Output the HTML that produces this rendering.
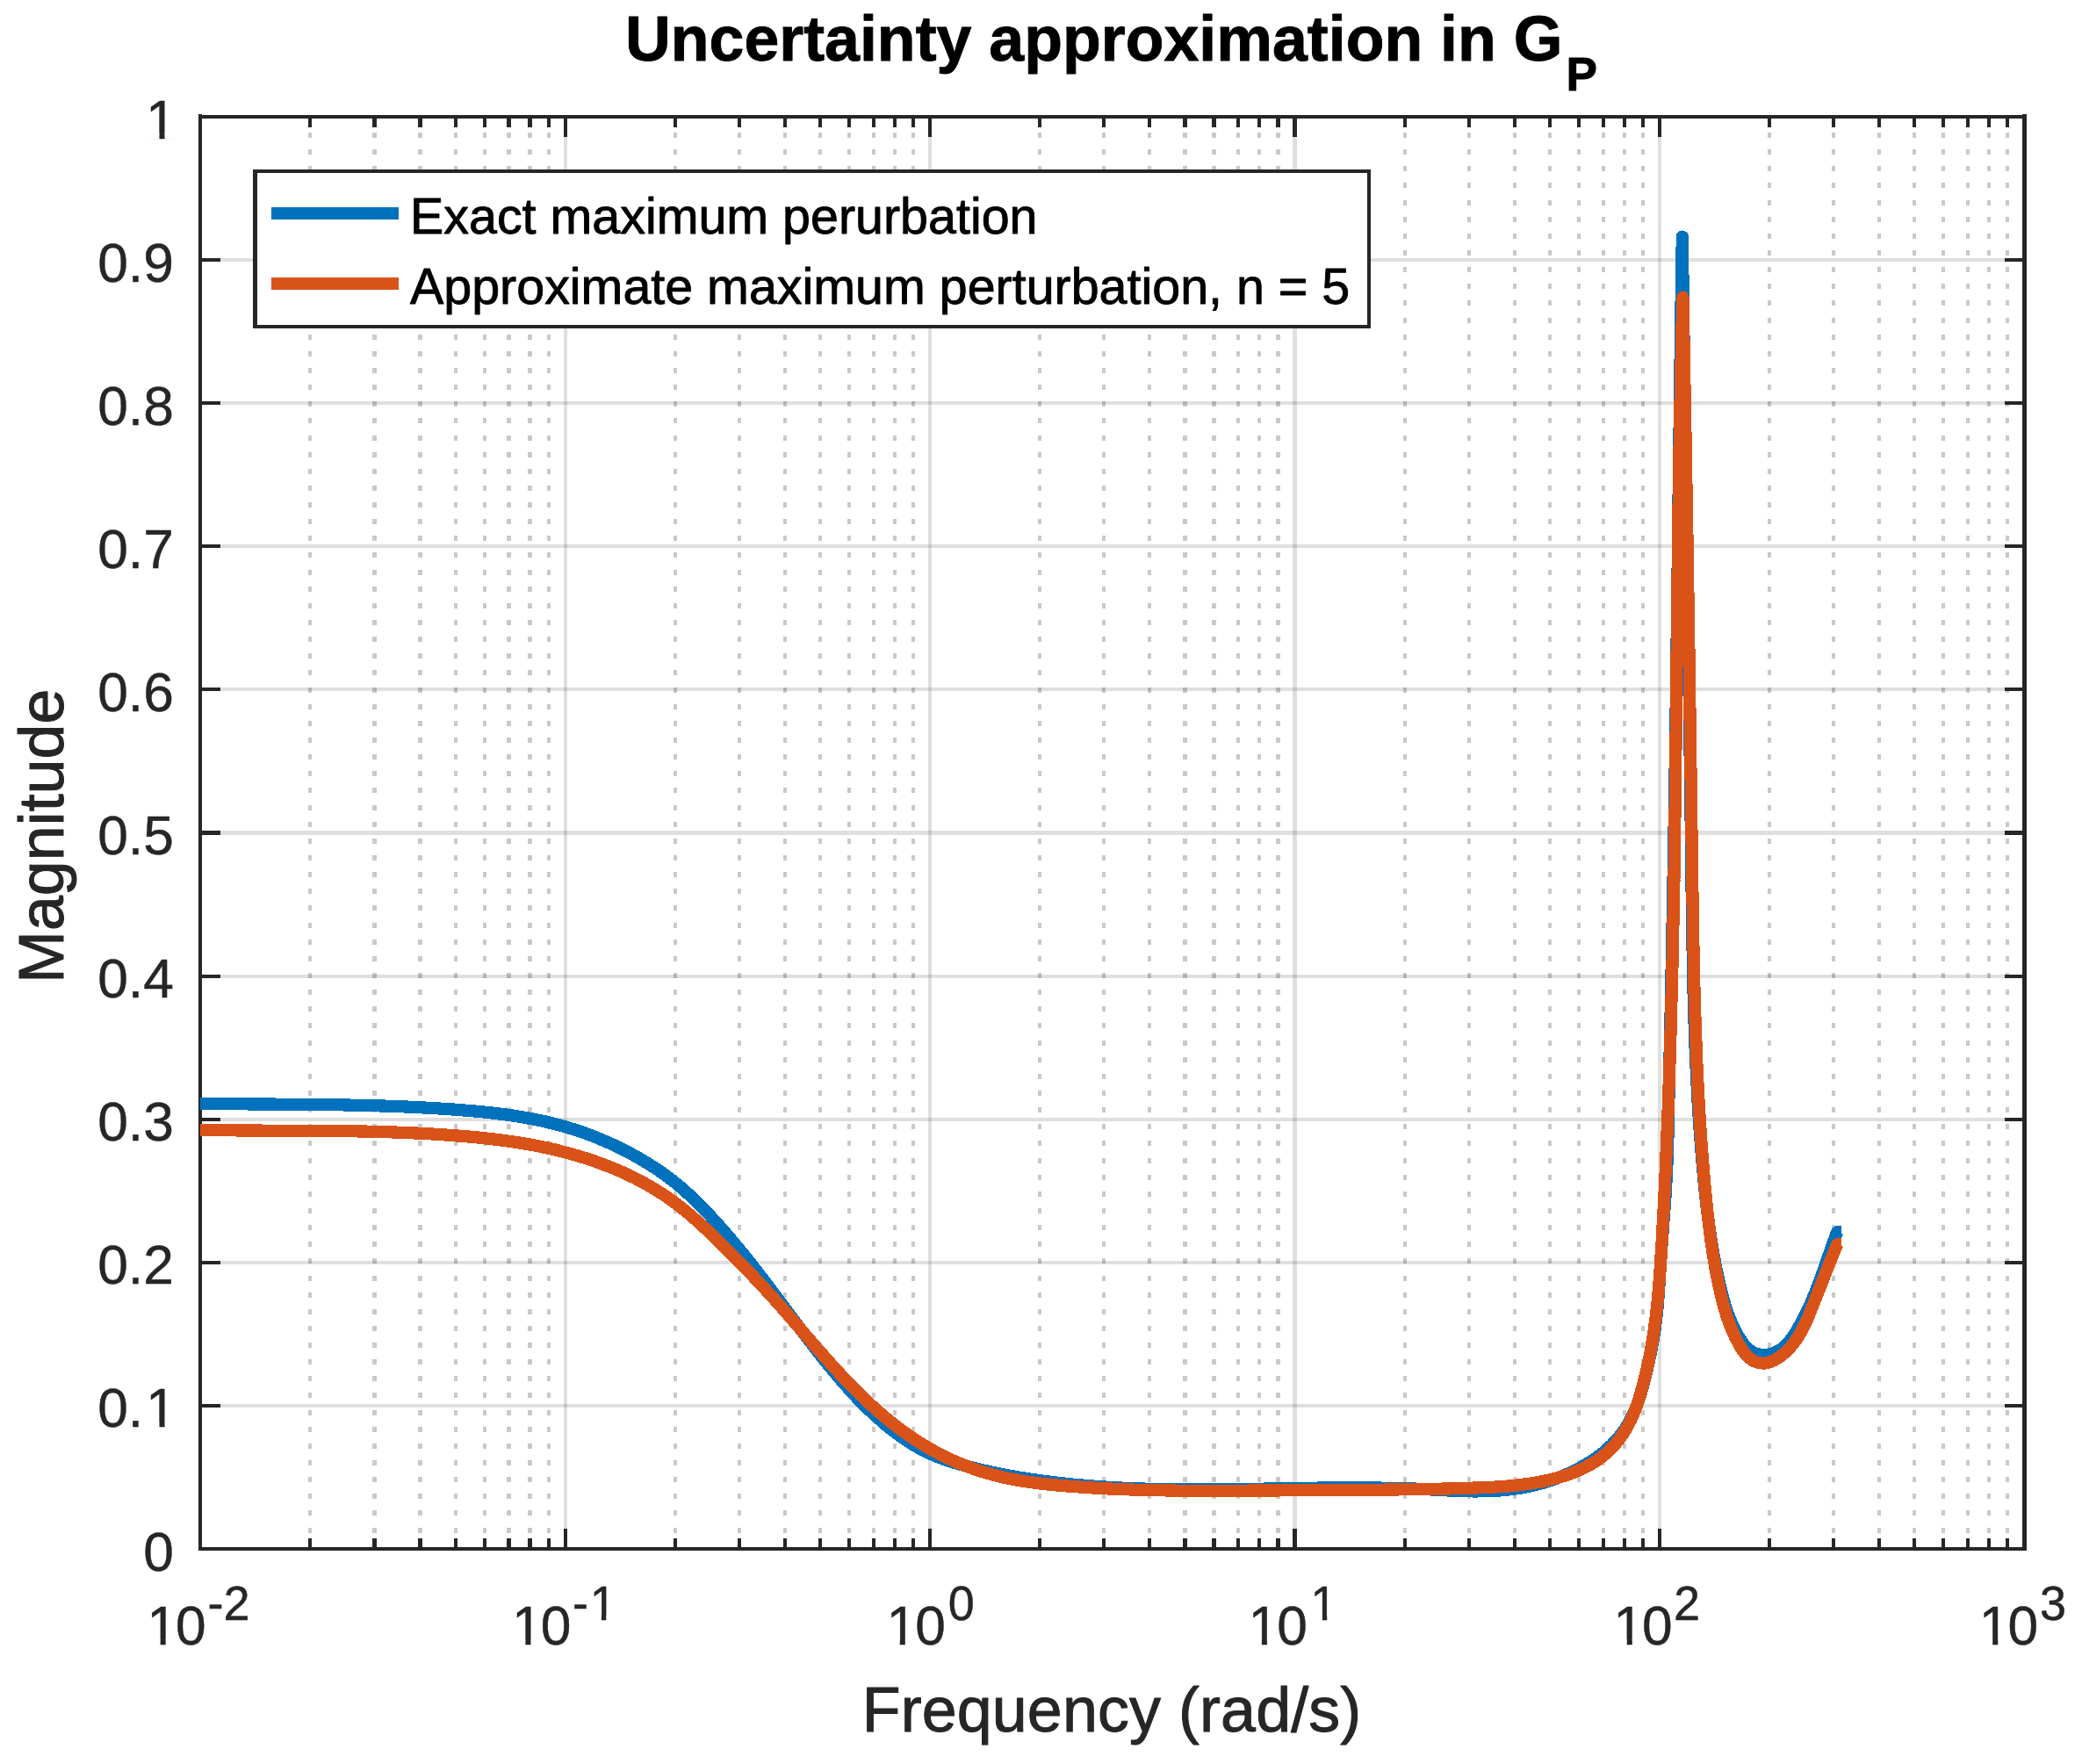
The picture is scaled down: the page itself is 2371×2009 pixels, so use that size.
<!DOCTYPE html>
<html lang="en"><head><meta charset="utf-8"><title>Uncertainty approximation in GP</title>
<style>html,body{margin:0;padding:0;background:#fff}svg{display:block}text{font-family:'Liberation Sans', Arial, Helvetica, sans-serif}</style></head><body>
<svg width="2371" height="2009" viewBox="0 0 2371 2009">
<rect width="2371" height="2009" fill="#fff"/>
<g shape-rendering="crispEdges" fill="none" stroke="#262626">
<path d="M353 131.85V1764M519 131.85V1764M552 131.85V1764M625 131.85V1764M769 131.85V1764M842 131.85V1764M894 131.85V1764M934 131.85V1764M967 131.85V1764M995 131.85V1764M1019 131.85V1764M1040 131.85V1764M1184 131.85V1764M1257 131.85V1764M1309 131.85V1764M1410 131.85V1764M1434 131.85V1764M1600 131.85V1764M1673 131.85V1764M1725 131.85V1764M1765 131.85V1764M1798 131.85V1764M1826 131.85V1764M1850 131.85V1764M1871 131.85V1764M2015 131.85V1764M2088 131.85V1764M2140 131.85V1764M2180 131.85V1764M2213 131.85V1764M2241 131.85V1764M2265 131.85V1764M2286 131.85V1764" stroke-width="4" stroke-opacity="0.25" stroke-dasharray="6 13.14"/>
<path d="M426.5 131.85V1764M478.5 131.85V1764M579.5 131.85V1764M603.5 131.85V1764M1349.5 131.85V1764M1382.5 131.85V1764M1455.5 131.85V1764" stroke-width="5" stroke-opacity="0.25" stroke-dasharray="6 13.14"/>
<path d="M644 133V1764M1059 133V1764M1890 133V1764" stroke-width="4" stroke-opacity="0.15"/>
<path d="M1474.5 133V1764" stroke-width="5" stroke-opacity="0.15"/>
<path d="M228 1601H2305M228 1438H2305M228 1275H2305M228 1112H2305M228 785H2305M228 622H2305M228 459H2305M228 296H2305" stroke-width="4" stroke-opacity="0.15"/>
<path d="M228 948.5H2305" stroke-width="5" stroke-opacity="0.15"/>
</g>
<g shape-rendering="crispEdges" fill="none" stroke="#262626">
<path d="M353 1764v-12M353 133v12M519 1764v-12M519 133v12M552 1764v-12M552 133v12M625 1764v-12M625 133v12M644 1764v-23M644 133v23M769 1764v-12M769 133v12M842 1764v-12M842 133v12M894 1764v-12M894 133v12M934 1764v-12M934 133v12M967 1764v-12M967 133v12M995 1764v-12M995 133v12M1019 1764v-12M1019 133v12M1040 1764v-12M1040 133v12M1059 1764v-23M1059 133v23M1184 1764v-12M1184 133v12M1257 1764v-12M1257 133v12M1309 1764v-12M1309 133v12M1410 1764v-12M1410 133v12M1434 1764v-12M1434 133v12M1600 1764v-12M1600 133v12M1673 1764v-12M1673 133v12M1725 1764v-12M1725 133v12M1765 1764v-12M1765 133v12M1798 1764v-12M1798 133v12M1826 1764v-12M1826 133v12M1850 1764v-12M1850 133v12M1871 1764v-12M1871 133v12M1890 1764v-23M1890 133v23M2015 1764v-12M2015 133v12M2088 1764v-12M2088 133v12M2140 1764v-12M2140 133v12M2180 1764v-12M2180 133v12M2213 1764v-12M2213 133v12M2241 1764v-12M2241 133v12M2265 1764v-12M2265 133v12M2286 1764v-12M2286 133v12M228 1601h23M2305 1601h-22M228 1438h23M2305 1438h-22M228 1275h23M2305 1275h-22M228 1112h23M2305 1112h-22M228 785h23M2305 785h-22M228 622h23M2305 622h-22M228 459h23M2305 459h-22M228 296h23M2305 296h-22M228 130V1766M226 133H2305M226 1764H2305" stroke-width="4"/>
<path d="M426.5 1764v-12M426.5 133v12M478.5 1764v-12M478.5 133v12M579.5 1764v-12M579.5 133v12M603.5 1764v-12M603.5 133v12M1349.5 1764v-12M1349.5 133v12M1382.5 1764v-12M1382.5 133v12M1455.5 1764v-12M1455.5 133v12M1474.5 1764v-23M1474.5 133v23M228 948.5h23M2305 948.5h-22M2305.5 130V1766" stroke-width="5"/>
</g>
<g fill="none" shape-rendering="crispEdges" stroke-linejoin="round" stroke-linecap="butt" stroke-width="14.2">
<defs><path id="cb" d="M228.0 1257.0C232.1 1257.0 236.2 1257.1 240.2 1257.1C244.3 1257.2 248.4 1257.2 252.5 1257.2C256.5 1257.3 260.6 1257.3 264.7 1257.3C268.8 1257.3 272.9 1257.4 276.9 1257.4C281.0 1257.4 285.1 1257.4 289.2 1257.5C293.2 1257.5 297.3 1257.5 301.4 1257.5C305.5 1257.6 309.5 1257.6 313.6 1257.6C317.7 1257.6 321.8 1257.6 325.9 1257.7C329.9 1257.7 334.0 1257.7 338.1 1257.8C342.2 1257.8 346.2 1257.8 350.3 1257.9C354.4 1257.9 358.5 1258.0 362.5 1258.0C366.6 1258.0 370.7 1258.1 374.8 1258.2C378.8 1258.2 382.9 1258.3 387.0 1258.3C391.0 1258.4 395.1 1258.5 399.2 1258.6C403.3 1258.6 407.3 1258.7 411.4 1258.8C415.5 1258.9 419.6 1259.0 423.6 1259.1C427.7 1259.3 431.8 1259.4 435.9 1259.5C439.9 1259.6 444.0 1259.8 448.1 1259.9C452.1 1260.1 456.2 1260.2 460.3 1260.4C464.4 1260.6 468.4 1260.8 472.5 1261.0C476.6 1261.2 480.7 1261.4 484.7 1261.6C488.8 1261.8 492.9 1262.0 496.9 1262.3C501.0 1262.5 505.1 1262.8 509.2 1263.1C513.2 1263.3 517.3 1263.6 521.4 1263.9C525.4 1264.2 529.5 1264.6 533.6 1264.9C537.6 1265.2 541.7 1265.6 545.8 1266.0C549.8 1266.4 553.9 1266.8 558.0 1267.2C562.0 1267.7 566.1 1268.2 570.1 1268.7C574.2 1269.2 578.2 1269.7 582.2 1270.3C586.3 1270.9 590.3 1271.5 594.3 1272.2C598.3 1272.9 602.3 1273.6 606.3 1274.4C610.3 1275.1 614.3 1275.9 618.3 1276.8C622.2 1277.7 626.2 1278.6 630.1 1279.6C634.1 1280.6 638.0 1281.7 641.9 1282.8C645.8 1283.9 649.7 1285.1 653.6 1286.3C657.5 1287.6 661.4 1288.9 665.2 1290.2C669.1 1291.6 672.9 1293.0 676.7 1294.5C680.5 1296.0 684.3 1297.6 688.0 1299.2C691.8 1300.8 695.5 1302.5 699.2 1304.2C702.9 1306.0 706.6 1307.8 710.3 1309.6C713.9 1311.5 717.5 1313.4 721.1 1315.3C724.7 1317.3 728.2 1319.3 731.7 1321.4C735.2 1323.4 738.7 1325.6 742.1 1327.8C745.6 1330.0 749.0 1332.2 752.3 1334.5C755.6 1336.8 758.9 1339.2 762.2 1341.7C765.4 1344.1 768.6 1346.6 771.7 1349.2C774.9 1351.8 778.0 1354.5 781.0 1357.2C784.0 1359.9 787.0 1362.7 790.0 1365.5C792.9 1368.3 795.8 1371.2 798.7 1374.1C801.6 1377.0 804.4 1380.0 807.2 1383.0C810.0 1386.0 812.7 1389.0 815.5 1392.0C818.2 1395.0 820.9 1398.1 823.6 1401.2C826.3 1404.2 829.0 1407.3 831.6 1410.4C834.3 1413.5 836.9 1416.7 839.5 1419.8C842.1 1422.9 844.7 1426.1 847.2 1429.2C849.8 1432.4 852.3 1435.6 854.9 1438.8C857.4 1442.0 859.9 1445.2 862.4 1448.4C864.9 1451.6 867.4 1454.8 869.9 1458.0C872.4 1461.3 874.8 1464.5 877.3 1467.8C879.7 1471.0 882.2 1474.3 884.6 1477.5C887.1 1480.8 889.5 1484.1 892.0 1487.3C894.4 1490.6 896.8 1493.9 899.3 1497.2C901.7 1500.4 904.1 1503.7 906.6 1507.0C909.0 1510.2 911.5 1513.5 913.9 1516.8C916.4 1520.0 918.9 1523.3 921.3 1526.5C923.8 1529.7 926.3 1533.0 928.8 1536.2C931.3 1539.4 933.8 1542.6 936.3 1545.8C938.9 1549.0 941.4 1552.2 944.0 1555.3C946.6 1558.5 949.1 1561.6 951.8 1564.7C954.4 1567.9 957.0 1571.0 959.7 1574.0C962.4 1577.1 965.1 1580.1 967.8 1583.1C970.5 1586.1 973.3 1589.1 976.1 1592.1C978.9 1595.0 981.8 1597.9 984.7 1600.8C987.5 1603.7 990.5 1606.5 993.5 1609.3C996.4 1612.1 999.5 1614.8 1002.6 1617.5C1005.6 1620.2 1008.8 1622.9 1012.0 1625.5C1015.1 1628.0 1018.4 1630.6 1021.7 1633.0C1025.0 1635.4 1028.3 1637.8 1031.7 1640.1C1035.1 1642.4 1038.6 1644.5 1042.1 1646.6C1045.6 1648.7 1049.1 1650.6 1052.8 1652.5C1056.4 1654.3 1060.1 1656.0 1063.8 1657.6C1067.5 1659.2 1071.3 1660.6 1075.1 1662.0C1078.9 1663.4 1082.8 1664.6 1086.7 1665.8C1090.6 1667.0 1094.5 1668.1 1098.4 1669.1C1102.3 1670.2 1106.3 1671.2 1110.3 1672.2C1114.2 1673.2 1118.2 1674.1 1122.2 1675.0C1126.2 1675.9 1130.1 1676.8 1134.1 1677.6C1138.2 1678.4 1142.2 1679.2 1146.2 1680.0C1150.2 1680.7 1154.2 1681.5 1158.3 1682.2C1162.3 1682.9 1166.3 1683.5 1170.4 1684.1C1174.4 1684.8 1178.4 1685.4 1182.5 1685.9C1186.5 1686.5 1190.6 1687.0 1194.6 1687.5C1198.7 1688.1 1202.7 1688.5 1206.8 1689.0C1210.8 1689.5 1214.9 1689.9 1218.9 1690.3C1223.0 1690.7 1227.0 1691.1 1231.1 1691.4C1235.2 1691.8 1239.2 1692.1 1243.3 1692.4C1247.3 1692.7 1251.4 1693.0 1255.5 1693.3C1259.5 1693.6 1263.6 1693.8 1267.6 1694.0C1271.7 1694.3 1275.8 1694.5 1279.8 1694.7C1283.9 1694.9 1288.0 1695.0 1292.0 1695.2C1296.1 1695.3 1300.2 1695.5 1304.2 1695.6C1308.3 1695.7 1312.4 1695.8 1316.4 1695.9C1320.5 1696.0 1324.6 1696.1 1328.7 1696.1C1332.7 1696.2 1336.8 1696.2 1340.9 1696.3C1344.9 1696.3 1349.0 1696.3 1353.1 1696.3C1357.2 1696.4 1361.2 1696.4 1365.3 1696.4C1369.4 1696.4 1373.5 1696.3 1377.6 1696.3C1381.6 1696.3 1385.7 1696.3 1389.8 1696.2C1393.9 1696.2 1397.9 1696.1 1402.0 1696.1C1406.1 1696.1 1410.2 1696.0 1414.3 1695.9C1418.3 1695.9 1422.4 1695.8 1426.5 1695.8C1430.6 1695.7 1434.6 1695.6 1438.7 1695.6C1442.8 1695.5 1446.9 1695.4 1451.0 1695.3C1455.0 1695.3 1459.1 1695.2 1463.2 1695.1C1467.3 1695.1 1471.4 1695.0 1475.4 1694.9C1479.5 1694.9 1483.6 1694.8 1487.7 1694.8C1491.8 1694.7 1495.8 1694.6 1499.9 1694.6C1504.0 1694.5 1508.1 1694.5 1512.2 1694.5C1516.2 1694.4 1520.3 1694.4 1524.4 1694.4C1528.5 1694.4 1532.5 1694.3 1536.6 1694.3C1540.7 1694.3 1544.8 1694.3 1548.9 1694.4C1552.9 1694.4 1557.0 1694.4 1561.1 1694.4C1565.2 1694.5 1569.2 1694.5 1573.3 1694.6C1577.4 1694.6 1581.5 1694.7 1585.5 1694.8C1589.6 1694.9 1593.7 1695.0 1597.7 1695.1C1601.8 1695.2 1605.9 1695.4 1610.0 1695.5C1614.0 1695.7 1618.1 1695.9 1622.2 1696.0C1626.2 1696.2 1630.3 1696.5 1634.4 1696.7C1638.4 1696.9 1642.5 1697.1 1646.6 1697.3C1650.6 1697.5 1654.7 1697.7 1658.8 1697.9C1662.8 1698.1 1666.9 1698.2 1671.0 1698.3C1675.1 1698.4 1679.1 1698.5 1683.2 1698.4C1687.3 1698.4 1691.4 1698.3 1695.5 1698.2C1699.6 1698.0 1703.6 1697.8 1707.7 1697.5C1711.8 1697.2 1715.9 1696.8 1719.9 1696.3C1724.0 1695.8 1728.0 1695.2 1732.1 1694.6C1736.1 1693.9 1740.1 1693.1 1744.1 1692.2C1748.0 1691.3 1752.0 1690.3 1755.9 1689.2C1759.8 1688.1 1763.7 1686.9 1767.5 1685.6C1771.4 1684.3 1775.2 1682.8 1778.9 1681.3C1782.7 1679.7 1786.4 1678.1 1790.1 1676.3C1793.8 1674.6 1797.4 1672.7 1801.0 1670.7C1804.6 1668.7 1808.2 1666.6 1811.6 1664.4C1815.1 1662.2 1818.5 1659.9 1821.7 1657.4C1825.0 1655.0 1828.2 1652.4 1831.2 1649.6C1834.2 1646.9 1837.1 1644.1 1839.9 1641.1C1842.6 1638.1 1845.1 1635.0 1847.5 1631.7C1849.9 1628.5 1852.1 1625.1 1854.2 1621.6C1856.2 1618.1 1858.0 1614.5 1859.7 1610.8C1861.5 1607.1 1863.0 1603.3 1864.4 1599.5C1865.8 1595.7 1867.1 1591.8 1868.3 1587.9C1869.5 1584.0 1870.6 1580.0 1871.7 1576.0C1872.7 1572.1 1873.7 1568.1 1874.6 1564.1C1875.6 1560.1 1876.5 1556.1 1877.4 1552.1C1878.3 1548.1 1879.2 1544.1 1880.0 1540.1C1880.8 1536.1 1881.6 1532.1 1882.3 1528.1C1883.0 1524.1 1883.7 1520.1 1884.3 1516.1C1884.9 1512.1 1885.4 1508.1 1885.9 1504.1C1886.4 1500.0 1886.9 1496.0 1887.3 1491.9C1887.6 1487.9 1888.0 1483.8 1888.3 1479.8C1888.6 1475.7 1888.9 1471.7 1889.2 1467.6C1889.5 1463.5 1889.7 1459.4 1890.0 1455.4C1890.2 1451.3 1890.5 1447.2 1890.7 1443.2C1891.0 1439.1 1891.2 1435.0 1891.5 1430.9C1891.8 1426.9 1892.1 1422.8 1892.4 1418.7C1892.7 1414.7 1893.0 1410.6 1893.3 1406.5C1893.6 1402.5 1893.9 1398.4 1894.2 1394.3C1894.5 1390.3 1894.8 1386.2 1895.1 1382.1C1895.4 1378.1 1895.7 1374.0 1896.0 1369.9C1896.3 1365.9 1896.6 1361.8 1896.8 1357.7C1897.1 1353.7 1897.3 1349.6 1897.5 1345.5C1897.8 1341.5 1898.0 1337.4 1898.1 1333.3C1898.3 1329.2 1898.5 1325.2 1898.6 1321.1C1898.8 1317.0 1898.9 1313.0 1899.1 1308.9C1899.2 1304.8 1899.3 1300.7 1899.4 1296.7C1899.5 1292.6 1899.6 1288.5 1899.7 1284.4C1899.8 1280.3 1899.9 1276.3 1900.0 1272.2C1900.1 1268.1 1900.2 1264.0 1900.2 1260.0C1900.3 1255.9 1900.4 1251.8 1900.5 1247.7C1900.6 1243.7 1900.7 1239.6 1900.8 1235.5C1900.9 1231.4 1901.0 1227.4 1901.1 1223.3C1901.2 1219.2 1901.2 1215.1 1901.3 1211.1C1901.4 1207.0 1901.5 1202.9 1901.6 1198.8C1901.7 1194.8 1901.8 1190.7 1901.9 1186.6C1902.0 1182.5 1902.0 1178.5 1902.1 1174.4C1902.2 1170.3 1902.3 1166.2 1902.4 1162.1C1902.5 1158.1 1902.6 1154.0 1902.7 1149.9C1902.7 1145.8 1902.8 1141.8 1902.9 1137.7C1903.0 1133.6 1903.1 1129.5 1903.2 1125.5C1903.3 1121.4 1903.3 1117.3 1903.4 1113.2C1903.5 1109.2 1903.6 1105.1 1903.7 1101.0C1903.8 1096.9 1903.8 1092.9 1903.9 1088.8C1904.0 1084.7 1904.1 1080.6 1904.2 1076.6C1904.2 1072.5 1904.3 1068.4 1904.4 1064.3C1904.5 1060.3 1904.6 1056.2 1904.6 1052.1C1904.7 1048.0 1904.8 1044.0 1904.9 1039.9C1904.9 1035.8 1905.0 1031.7 1905.1 1027.7C1905.2 1023.6 1905.2 1019.5 1905.3 1015.4C1905.4 1011.4 1905.5 1007.3 1905.5 1003.2C1905.6 999.1 1905.7 995.0 1905.8 991.0C1905.8 986.9 1905.9 982.8 1906.0 978.7C1906.0 974.7 1906.1 970.6 1906.2 966.5C1906.2 962.4 1906.3 958.4 1906.4 954.3C1906.5 950.2 1906.5 946.1 1906.6 942.1C1906.7 938.0 1906.7 933.9 1906.8 929.8C1906.8 925.8 1906.9 921.7 1907.0 917.6C1907.0 913.5 1907.1 909.5 1907.2 905.4C1907.2 901.3 1907.3 897.2 1907.4 893.2C1907.4 889.1 1907.5 885.0 1907.5 880.9C1907.6 876.8 1907.7 872.8 1907.7 868.7C1907.8 864.6 1907.8 860.5 1907.9 856.5C1907.9 852.4 1908.0 848.3 1908.1 844.2C1908.1 840.2 1908.2 836.1 1908.2 832.0C1908.3 827.9 1908.3 823.9 1908.4 819.8C1908.5 815.7 1908.5 811.6 1908.6 807.6C1908.6 803.5 1908.7 799.4 1908.7 795.3C1908.8 791.2 1908.8 787.2 1908.9 783.1C1908.9 779.0 1909.0 774.9 1909.1 770.9C1909.1 766.8 1909.2 762.7 1909.2 758.6C1909.3 754.6 1909.3 750.5 1909.4 746.4C1909.4 742.3 1909.5 738.3 1909.5 734.2C1909.6 730.1 1909.6 726.0 1909.7 722.0C1909.7 717.9 1909.8 713.8 1909.8 709.7C1909.9 705.6 1909.9 701.6 1910.0 697.5C1910.0 693.4 1910.1 689.3 1910.1 685.3C1910.2 681.2 1910.2 677.1 1910.3 673.0C1910.3 669.0 1910.4 664.9 1910.4 660.8C1910.5 656.7 1910.5 652.7 1910.6 648.6C1910.6 644.5 1910.7 640.4 1910.7 636.4C1910.8 632.3 1910.8 628.2 1910.9 624.1C1910.9 620.0 1911.0 616.0 1911.0 611.9C1911.1 607.8 1911.1 603.7 1911.2 599.7C1911.2 595.6 1911.3 591.5 1911.3 587.4C1911.4 583.4 1911.4 579.3 1911.5 575.2C1911.5 571.1 1911.6 567.1 1911.6 563.0C1911.7 558.9 1911.7 554.8 1911.8 550.8C1911.8 546.7 1911.9 542.6 1911.9 538.5C1912.0 534.4 1912.0 530.4 1912.1 526.3C1912.1 522.2 1912.2 518.1 1912.2 514.1C1912.3 510.0 1912.3 505.9 1912.4 501.8C1912.4 497.8 1912.5 493.7 1912.6 489.6C1912.6 485.5 1912.7 481.5 1912.7 477.4C1912.8 473.3 1912.8 469.2 1912.9 465.1C1912.9 461.1 1913.0 457.0 1913.0 452.9C1913.1 448.8 1913.1 444.8 1913.2 440.7C1913.3 436.6 1913.3 432.5 1913.4 428.5C1913.4 424.4 1913.5 420.3 1913.5 416.2C1913.6 412.2 1913.6 408.1 1913.7 404.0C1913.8 399.9 1913.8 395.9 1913.9 391.8C1913.9 387.7 1914.0 383.6 1914.1 379.6C1914.1 375.5 1914.2 371.4 1914.2 367.3C1914.3 363.2 1914.4 359.2 1914.4 355.1C1914.5 351.0 1914.5 346.9 1914.6 342.9C1914.7 338.8 1914.7 334.7 1914.8 330.6C1914.9 326.6 1914.9 322.5 1915.0 318.4C1915.1 314.3 1915.1 310.3 1915.2 306.2C1915.3 302.1 1915.3 298.0 1915.4 294.0C1915.5 289.9 1915.5 285.8 1915.6 281.7C1915.7 277.7 1915.7 273.6 1915.8 269.5C1915.9 273.6 1915.9 277.7 1916.0 281.8C1916.0 285.9 1916.1 290.1 1916.1 294.2C1916.2 298.3 1916.3 302.4 1916.3 306.5C1916.4 310.6 1916.4 314.7 1916.5 318.8C1916.5 322.9 1916.6 327.0 1916.7 331.1C1916.7 335.3 1916.8 339.4 1916.8 343.5C1916.9 347.6 1917.0 351.7 1917.0 355.8C1917.1 359.9 1917.1 364.0 1917.2 368.1C1917.2 372.2 1917.3 376.3 1917.4 380.4C1917.4 384.6 1917.5 388.7 1917.5 392.8C1917.6 396.9 1917.7 401.0 1917.7 405.1C1917.8 409.2 1917.9 413.3 1917.9 417.4C1918.0 421.5 1918.0 425.6 1918.1 429.7C1918.2 433.8 1918.2 438.0 1918.3 442.1C1918.3 446.2 1918.4 450.3 1918.5 454.4C1918.5 458.5 1918.6 462.6 1918.7 466.7C1918.7 470.8 1918.8 474.9 1918.8 479.0C1918.9 483.1 1919.0 487.2 1919.0 491.3C1919.1 495.5 1919.2 499.6 1919.2 503.7C1919.3 507.8 1919.3 511.9 1919.4 516.0C1919.5 520.1 1919.5 524.2 1919.6 528.3C1919.7 532.4 1919.7 536.5 1919.8 540.6C1919.8 544.7 1919.9 548.8 1920.0 552.9C1920.0 557.1 1920.1 561.2 1920.2 565.3C1920.2 569.4 1920.3 573.5 1920.4 577.6C1920.4 581.7 1920.5 585.8 1920.5 589.9C1920.6 594.0 1920.7 598.1 1920.7 602.2C1920.8 606.3 1920.9 610.4 1920.9 614.5C1921.0 618.6 1921.0 622.8 1921.1 626.9C1921.2 631.0 1921.2 635.1 1921.3 639.2C1921.4 643.3 1921.4 647.4 1921.5 651.5C1921.6 655.6 1921.6 659.7 1921.7 663.8C1921.7 667.9 1921.8 672.0 1921.9 676.1C1921.9 680.2 1922.0 684.3 1922.1 688.5C1922.1 692.6 1922.2 696.7 1922.2 700.8C1922.3 704.9 1922.4 709.0 1922.4 713.1C1922.5 717.2 1922.5 721.3 1922.6 725.4C1922.7 729.5 1922.7 733.6 1922.8 737.7C1922.9 741.8 1922.9 745.9 1923.0 750.0C1923.0 754.2 1923.1 758.3 1923.2 762.4C1923.2 766.5 1923.3 770.6 1923.3 774.7C1923.4 778.8 1923.5 782.9 1923.5 787.0C1923.6 791.1 1923.6 795.2 1923.7 799.3C1923.8 803.4 1923.8 807.5 1923.9 811.7C1923.9 815.8 1924.0 819.9 1924.1 824.0C1924.1 828.1 1924.2 832.2 1924.2 836.3C1924.3 840.4 1924.3 844.5 1924.4 848.6C1924.5 852.7 1924.5 856.8 1924.6 860.9C1924.6 865.1 1924.7 869.2 1924.7 873.3C1924.8 877.4 1924.9 881.5 1924.9 885.6C1925.0 889.7 1925.0 893.8 1925.1 897.9C1925.1 902.0 1925.2 906.1 1925.2 910.2C1925.3 914.4 1925.4 918.5 1925.4 922.6C1925.5 926.7 1925.5 930.8 1925.6 934.9C1925.6 939.0 1925.7 943.1 1925.7 947.2C1925.8 951.3 1925.8 955.4 1925.9 959.6C1925.9 963.7 1926.0 967.8 1926.0 971.9C1926.1 976.0 1926.1 980.1 1926.2 984.2C1926.2 988.3 1926.3 992.4 1926.3 996.5C1926.4 1000.7 1926.4 1004.8 1926.5 1008.9C1926.6 1013.0 1926.6 1017.1 1926.7 1021.2C1926.7 1025.3 1926.8 1029.4 1926.8 1033.5C1926.9 1037.7 1926.9 1041.8 1927.0 1045.9C1927.0 1050.0 1927.1 1054.1 1927.2 1058.2C1927.2 1062.3 1927.3 1066.4 1927.4 1070.5C1927.4 1074.7 1927.5 1078.8 1927.6 1082.9C1927.7 1087.0 1927.7 1091.1 1927.8 1095.2C1927.9 1099.3 1928.0 1103.4 1928.1 1107.5C1928.1 1111.6 1928.2 1115.8 1928.3 1119.9C1928.4 1124.0 1928.5 1128.1 1928.6 1132.2C1928.7 1136.3 1928.9 1140.4 1929.0 1144.5C1929.1 1148.6 1929.2 1152.7 1929.3 1156.8C1929.5 1160.9 1929.6 1165.0 1929.7 1169.2C1929.9 1173.3 1930.0 1177.4 1930.1 1181.5C1930.3 1185.6 1930.5 1189.7 1930.6 1193.8C1930.8 1197.9 1930.9 1202.0 1931.1 1206.1C1931.3 1210.2 1931.5 1214.3 1931.7 1218.4C1931.9 1222.5 1932.1 1226.6 1932.3 1230.7C1932.5 1234.8 1932.7 1238.9 1932.9 1243.0C1933.1 1247.1 1933.4 1251.2 1933.6 1255.3C1933.9 1259.4 1934.1 1263.5 1934.4 1267.6C1934.6 1271.7 1934.9 1275.8 1935.2 1279.9C1935.5 1284.0 1935.7 1288.1 1936.0 1292.2C1936.3 1296.3 1936.7 1300.4 1937.0 1304.5C1937.3 1308.5 1937.6 1312.6 1938.0 1316.7C1938.3 1320.8 1938.7 1324.9 1939.0 1329.0C1939.4 1333.1 1939.8 1337.2 1940.1 1341.3C1940.5 1345.4 1940.9 1349.4 1941.3 1353.5C1941.8 1357.6 1942.2 1361.7 1942.6 1365.8C1943.1 1369.9 1943.5 1373.9 1944.0 1378.0C1944.5 1382.1 1945.0 1386.2 1945.6 1390.2C1946.1 1394.3 1946.7 1398.4 1947.2 1402.4C1947.8 1406.5 1948.4 1410.5 1949.1 1414.6C1949.7 1418.7 1950.4 1422.7 1951.1 1426.7C1951.8 1430.8 1952.6 1434.8 1953.3 1438.9C1954.1 1442.9 1954.9 1446.9 1955.8 1450.9C1956.6 1455.0 1957.5 1459.0 1958.5 1463.0C1959.4 1467.0 1960.4 1471.0 1961.4 1475.0C1962.5 1479.0 1963.6 1482.9 1964.8 1486.9C1966.0 1490.8 1967.3 1494.7 1968.8 1498.6C1970.2 1502.4 1971.8 1506.3 1973.5 1510.0C1975.3 1513.8 1977.2 1517.5 1979.3 1521.1C1981.5 1524.7 1983.7 1528.4 1986.4 1531.5C1989.0 1534.5 1991.9 1537.6 1995.2 1539.5C1998.6 1541.4 2002.6 1542.6 2006.5 1543.0C2010.4 1543.3 2014.7 1542.7 2018.5 1541.6C2022.3 1540.4 2025.9 1538.4 2029.1 1536.0C2032.3 1533.7 2035.1 1530.6 2037.8 1527.5C2040.5 1524.3 2042.8 1520.7 2045.1 1517.1C2047.3 1513.6 2049.4 1509.8 2051.4 1506.1C2053.4 1502.4 2055.3 1498.7 2057.1 1495.0C2058.9 1491.3 2060.6 1487.5 2062.3 1483.8C2063.9 1480.0 2065.5 1476.3 2067.0 1472.5C2068.5 1468.7 2070.0 1464.9 2071.4 1461.1C2072.8 1457.3 2074.2 1453.5 2075.6 1449.7C2077.0 1445.9 2078.3 1442.0 2079.6 1438.2C2081.0 1434.3 2082.3 1430.5 2083.7 1426.6C2085.1 1422.7 2086.4 1418.8 2087.8 1414.9C2089.3 1411.0 2090.7 1407.1 2092.2 1403.2L2097.0 1403.0"/><path id="co" d="M228.0 1287.0C232.0 1287.1 235.9 1287.1 239.9 1287.2C243.8 1287.2 247.8 1287.3 251.7 1287.3C255.7 1287.3 259.7 1287.4 263.6 1287.4C267.6 1287.4 271.5 1287.4 275.5 1287.5C279.4 1287.5 283.4 1287.5 287.4 1287.5C291.3 1287.5 295.3 1287.6 299.3 1287.6C303.2 1287.6 307.2 1287.6 311.1 1287.6C315.1 1287.6 319.1 1287.6 323.0 1287.6C327.0 1287.7 330.9 1287.7 334.9 1287.7C338.9 1287.7 342.8 1287.7 346.8 1287.7C350.8 1287.8 354.7 1287.8 358.7 1287.8C362.6 1287.8 366.6 1287.9 370.6 1287.9C374.5 1287.9 378.5 1288.0 382.5 1288.0C386.4 1288.1 390.4 1288.1 394.3 1288.2C398.3 1288.2 402.3 1288.3 406.2 1288.4C410.2 1288.5 414.1 1288.5 418.1 1288.6C422.1 1288.7 426.0 1288.8 430.0 1288.9C433.9 1289.0 437.9 1289.1 441.9 1289.3C445.8 1289.4 449.8 1289.5 453.7 1289.7C457.7 1289.8 461.6 1290.0 465.6 1290.2C469.5 1290.3 473.5 1290.5 477.5 1290.7C481.4 1290.9 485.4 1291.1 489.3 1291.3C493.3 1291.6 497.2 1291.8 501.2 1292.1C505.1 1292.3 509.1 1292.6 513.0 1292.9C517.0 1293.2 520.9 1293.5 524.9 1293.8C528.8 1294.1 532.7 1294.4 536.7 1294.8C540.6 1295.2 544.6 1295.5 548.5 1295.9C552.4 1296.4 556.4 1296.8 560.3 1297.2C564.2 1297.7 568.2 1298.2 572.1 1298.7C576.0 1299.2 579.9 1299.8 583.8 1300.3C587.8 1300.9 591.7 1301.5 595.6 1302.2C599.5 1302.8 603.4 1303.5 607.3 1304.2C611.2 1305.0 615.1 1305.7 618.9 1306.6C622.8 1307.4 626.7 1308.2 630.6 1309.1C634.4 1310.0 638.3 1311.0 642.1 1312.0C646.0 1312.9 649.8 1314.0 653.6 1315.1C657.4 1316.2 661.2 1317.3 665.0 1318.5C668.8 1319.7 672.6 1320.9 676.3 1322.2C680.1 1323.5 683.8 1324.9 687.5 1326.3C691.2 1327.7 694.9 1329.1 698.6 1330.6C702.2 1332.1 705.9 1333.7 709.5 1335.3C713.1 1337.0 716.6 1338.6 720.2 1340.4C723.7 1342.1 727.2 1343.9 730.7 1345.8C734.2 1347.7 737.6 1349.6 741.0 1351.6C744.4 1353.6 747.8 1355.6 751.1 1357.8C754.5 1359.9 757.8 1362.1 761.0 1364.3C764.2 1366.6 767.4 1368.9 770.6 1371.3C773.8 1373.7 776.9 1376.1 779.9 1378.6C783.0 1381.1 786.0 1383.7 789.0 1386.3C792.0 1388.9 795.0 1391.6 797.9 1394.3C800.9 1397.0 803.8 1399.7 806.7 1402.4C809.6 1405.2 812.4 1408.0 815.3 1410.8C818.1 1413.5 820.9 1416.4 823.7 1419.2C826.6 1422.0 829.4 1424.8 832.1 1427.6C834.9 1430.4 837.7 1433.2 840.5 1436.0C843.3 1438.8 846.0 1441.6 848.8 1444.5C851.5 1447.3 854.2 1450.1 857.0 1452.9C859.7 1455.8 862.4 1458.6 865.1 1461.5C867.8 1464.4 870.5 1467.3 873.1 1470.2C875.8 1473.1 878.5 1476.0 881.1 1479.0C883.8 1481.9 886.4 1484.9 889.0 1487.8C891.6 1490.8 894.2 1493.8 896.9 1496.8C899.5 1499.8 902.1 1502.8 904.7 1505.8C907.3 1508.8 909.9 1511.8 912.5 1514.8C915.1 1517.8 917.7 1520.8 920.3 1523.8C922.9 1526.8 925.5 1529.9 928.1 1532.8C930.7 1535.8 933.3 1538.8 936.0 1541.8C938.6 1544.8 941.2 1547.8 943.9 1550.7C946.5 1553.7 949.2 1556.6 951.9 1559.6C954.6 1562.5 957.3 1565.4 960.0 1568.3C962.7 1571.2 965.4 1574.0 968.2 1576.9C971.0 1579.7 973.7 1582.5 976.5 1585.3C979.3 1588.1 982.2 1590.9 985.0 1593.6C987.9 1596.3 990.8 1599.0 993.7 1601.7C996.6 1604.3 999.5 1606.9 1002.5 1609.5C1005.5 1612.1 1008.5 1614.6 1011.5 1617.1C1014.6 1619.6 1017.7 1622.0 1020.8 1624.4C1023.9 1626.8 1027.1 1629.2 1030.3 1631.5C1033.5 1633.8 1036.8 1636.0 1040.0 1638.2C1043.3 1640.4 1046.7 1642.6 1050.1 1644.6C1053.4 1646.7 1056.9 1648.7 1060.3 1650.7C1063.8 1652.6 1067.3 1654.5 1070.8 1656.3C1074.4 1658.2 1077.9 1659.9 1081.5 1661.6C1085.1 1663.3 1088.8 1664.9 1092.4 1666.5C1096.1 1668.0 1099.8 1669.5 1103.5 1670.9C1107.2 1672.3 1111.0 1673.6 1114.7 1674.9C1118.5 1676.1 1122.3 1677.3 1126.1 1678.3C1129.9 1679.4 1133.7 1680.4 1137.6 1681.3C1141.4 1682.3 1145.2 1683.1 1149.1 1683.9C1153.0 1684.7 1156.9 1685.4 1160.8 1686.1C1164.6 1686.8 1168.6 1687.4 1172.5 1687.9C1176.4 1688.5 1180.3 1689.0 1184.2 1689.5C1188.2 1690.0 1192.1 1690.4 1196.0 1690.8C1200.0 1691.2 1203.9 1691.5 1207.9 1691.9C1211.8 1692.2 1215.8 1692.5 1219.7 1692.8C1223.7 1693.1 1227.7 1693.4 1231.6 1693.7C1235.6 1693.9 1239.5 1694.2 1243.5 1694.4C1247.4 1694.7 1251.4 1694.9 1255.3 1695.1C1259.3 1695.3 1263.2 1695.5 1267.2 1695.7C1271.2 1695.8 1275.1 1696.0 1279.1 1696.1C1283.0 1696.3 1287.0 1696.4 1290.9 1696.6C1294.9 1696.7 1298.9 1696.8 1302.8 1696.9C1306.8 1697.0 1310.7 1697.1 1314.7 1697.2C1318.7 1697.3 1322.6 1697.3 1326.6 1697.4C1330.5 1697.5 1334.5 1697.5 1338.4 1697.6C1342.4 1697.6 1346.4 1697.6 1350.3 1697.7C1354.3 1697.7 1358.2 1697.7 1362.2 1697.7C1366.2 1697.8 1370.1 1697.8 1374.1 1697.8C1378.0 1697.8 1382.0 1697.8 1386.0 1697.8C1389.9 1697.8 1393.9 1697.8 1397.8 1697.7C1401.8 1697.7 1405.8 1697.7 1409.7 1697.7C1413.7 1697.7 1417.6 1697.6 1421.6 1697.6C1425.6 1697.6 1429.5 1697.6 1433.5 1697.5C1437.4 1697.5 1441.4 1697.5 1445.4 1697.4C1449.3 1697.4 1453.3 1697.4 1457.3 1697.4C1461.2 1697.3 1465.2 1697.3 1469.1 1697.3C1473.1 1697.2 1477.0 1697.2 1481.0 1697.2C1485.0 1697.2 1488.9 1697.1 1492.9 1697.1C1496.8 1697.1 1500.8 1697.1 1504.8 1697.0C1508.7 1697.0 1512.7 1697.0 1516.6 1697.0C1520.6 1697.0 1524.6 1696.9 1528.5 1696.9C1532.5 1696.9 1536.4 1696.9 1540.4 1696.9C1544.4 1696.8 1548.3 1696.8 1552.3 1696.8C1556.2 1696.7 1560.2 1696.7 1564.2 1696.7C1568.1 1696.7 1572.1 1696.6 1576.0 1696.6C1580.0 1696.5 1583.9 1696.5 1587.9 1696.5C1591.9 1696.4 1595.8 1696.4 1599.8 1696.3C1603.7 1696.3 1607.7 1696.2 1611.7 1696.2C1615.6 1696.1 1619.6 1696.0 1623.5 1696.0C1627.5 1695.9 1631.5 1695.8 1635.4 1695.7C1639.4 1695.7 1643.3 1695.6 1647.3 1695.5C1651.3 1695.4 1655.2 1695.3 1659.2 1695.2C1663.1 1695.1 1667.1 1695.0 1671.1 1694.8C1675.0 1694.7 1679.0 1694.6 1682.9 1694.4C1686.9 1694.3 1690.8 1694.1 1694.8 1694.0C1698.8 1693.8 1702.7 1693.6 1706.7 1693.3C1710.6 1693.0 1714.6 1692.7 1718.5 1692.4C1722.4 1692.1 1726.4 1691.7 1730.3 1691.2C1734.2 1690.7 1738.2 1690.2 1742.1 1689.6C1746.0 1689.1 1749.9 1688.4 1753.8 1687.7C1757.7 1686.9 1761.6 1686.1 1765.5 1685.2C1769.3 1684.2 1773.2 1683.2 1777.0 1682.1C1780.9 1681.0 1784.7 1679.8 1788.4 1678.4C1792.2 1677.0 1795.9 1675.6 1799.5 1673.9C1803.1 1672.3 1806.6 1670.6 1810.0 1668.6C1813.4 1666.7 1816.8 1664.7 1820.0 1662.4C1823.2 1660.2 1826.3 1657.7 1829.2 1655.1C1832.1 1652.5 1834.9 1649.8 1837.6 1646.9C1840.2 1643.9 1842.7 1640.9 1845.1 1637.7C1847.4 1634.5 1849.6 1631.2 1851.6 1627.8C1853.7 1624.4 1855.5 1620.8 1857.2 1617.3C1859.0 1613.7 1860.5 1610.0 1861.9 1606.3C1863.4 1602.6 1864.7 1598.8 1865.9 1595.0C1867.1 1591.2 1868.2 1587.4 1869.3 1583.6C1870.4 1579.7 1871.4 1575.9 1872.4 1572.0C1873.4 1568.2 1874.3 1564.3 1875.2 1560.4C1876.1 1556.6 1876.9 1552.7 1877.7 1548.8C1878.5 1545.0 1879.3 1541.1 1880.0 1537.2C1880.7 1533.3 1881.4 1529.4 1882.0 1525.5C1882.6 1521.6 1883.2 1517.7 1883.8 1513.8C1884.4 1509.9 1884.9 1506.0 1885.4 1502.1C1885.9 1498.1 1886.3 1494.2 1886.7 1490.3C1887.2 1486.3 1887.6 1482.4 1888.0 1478.5C1888.3 1474.5 1888.7 1470.6 1889.0 1466.6C1889.3 1462.7 1889.7 1458.7 1890.0 1454.8C1890.3 1450.8 1890.5 1446.9 1890.8 1442.9C1891.1 1439.0 1891.3 1435.0 1891.6 1431.1C1891.8 1427.1 1892.1 1423.2 1892.3 1419.2C1892.5 1415.3 1892.8 1411.3 1893.0 1407.4C1893.2 1403.4 1893.4 1399.4 1893.6 1395.5C1893.9 1391.5 1894.1 1387.6 1894.3 1383.6C1894.5 1379.7 1894.7 1375.7 1894.9 1371.8C1895.1 1367.8 1895.3 1363.8 1895.5 1359.9C1895.7 1355.9 1895.9 1352.0 1896.0 1348.0C1896.2 1344.1 1896.4 1340.1 1896.6 1336.2C1896.8 1332.2 1897.0 1328.2 1897.1 1324.3C1897.3 1320.3 1897.5 1316.4 1897.6 1312.4C1897.8 1308.5 1898.0 1304.5 1898.2 1300.6C1898.3 1296.6 1898.5 1292.6 1898.6 1288.7C1898.8 1284.7 1899.0 1280.8 1899.1 1276.8C1899.3 1272.9 1899.4 1268.9 1899.6 1264.9C1899.7 1261.0 1899.9 1257.0 1900.0 1253.1C1900.1 1249.1 1900.3 1245.2 1900.4 1241.2C1900.6 1237.2 1900.7 1233.3 1900.8 1229.3C1901.0 1225.4 1901.1 1221.4 1901.2 1217.5C1901.4 1213.5 1901.5 1209.5 1901.6 1205.6C1901.7 1201.6 1901.9 1197.7 1902.0 1193.7C1902.1 1189.8 1902.2 1185.8 1902.3 1181.8C1902.5 1177.9 1902.6 1173.9 1902.7 1170.0C1902.8 1166.0 1902.9 1162.1 1903.0 1158.1C1903.1 1154.1 1903.2 1150.2 1903.3 1146.2C1903.4 1142.3 1903.5 1138.3 1903.6 1134.3C1903.7 1130.4 1903.8 1126.4 1903.9 1122.5C1904.0 1118.5 1904.1 1114.6 1904.2 1110.6C1904.3 1106.6 1904.4 1102.7 1904.5 1098.7C1904.6 1094.8 1904.7 1090.8 1904.8 1086.8C1904.9 1082.9 1904.9 1078.9 1905.0 1075.0C1905.1 1071.0 1905.2 1067.1 1905.3 1063.1C1905.3 1059.1 1905.4 1055.2 1905.5 1051.2C1905.6 1047.3 1905.7 1043.3 1905.7 1039.3C1905.8 1035.4 1905.9 1031.4 1905.9 1027.5C1906.0 1023.5 1906.1 1019.5 1906.2 1015.6C1906.2 1011.6 1906.3 1007.7 1906.4 1003.7C1906.4 999.7 1906.5 995.8 1906.6 991.8C1906.6 987.9 1906.7 983.9 1906.7 979.9C1906.8 976.0 1906.9 972.0 1906.9 968.1C1907.0 964.1 1907.0 960.2 1907.1 956.2C1907.2 952.2 1907.2 948.3 1907.3 944.3C1907.3 940.4 1907.4 936.4 1907.4 932.4C1907.5 928.5 1907.5 924.5 1907.6 920.6C1907.6 916.6 1907.7 912.6 1907.8 908.7C1907.8 904.7 1907.9 900.8 1907.9 896.8C1908.0 892.8 1908.0 888.9 1908.0 884.9C1908.1 881.0 1908.1 877.0 1908.2 873.0C1908.2 869.1 1908.3 865.1 1908.3 861.2C1908.4 857.2 1908.4 853.2 1908.5 849.3C1908.5 845.3 1908.6 841.4 1908.6 837.4C1908.6 833.4 1908.7 829.5 1908.7 825.5C1908.8 821.6 1908.8 817.6 1908.9 813.6C1908.9 809.7 1908.9 805.7 1909.0 801.8C1909.0 797.8 1909.1 793.8 1909.1 789.9C1909.2 785.9 1909.2 782.0 1909.2 778.0C1909.3 774.0 1909.3 770.1 1909.4 766.1C1909.4 762.2 1909.4 758.2 1909.5 754.2C1909.5 750.3 1909.6 746.3 1909.6 742.4C1909.7 738.4 1909.7 734.4 1909.7 730.5C1909.8 726.5 1909.8 722.6 1909.9 718.6C1909.9 714.6 1909.9 710.7 1910.0 706.7C1910.0 702.7 1910.1 698.8 1910.1 694.8C1910.2 690.9 1910.2 686.9 1910.2 682.9C1910.3 679.0 1910.3 675.0 1910.4 671.1C1910.4 667.1 1910.5 663.1 1910.5 659.2C1910.6 655.2 1910.6 651.3 1910.7 647.3C1910.7 643.3 1910.7 639.4 1910.8 635.4C1910.8 631.5 1910.9 627.5 1910.9 623.5C1911.0 619.6 1911.0 615.6 1911.1 611.7C1911.1 607.7 1911.2 603.7 1911.2 599.8C1911.3 595.8 1911.4 591.9 1911.4 587.9C1911.5 584.0 1911.5 580.0 1911.6 576.0C1911.6 572.1 1911.7 568.1 1911.7 564.2C1911.8 560.2 1911.9 556.2 1911.9 552.3C1912.0 548.3 1912.0 544.4 1912.1 540.4C1912.2 536.4 1912.2 532.5 1912.3 528.5C1912.4 524.6 1912.4 520.6 1912.5 516.6C1912.5 512.7 1912.6 508.7 1912.7 504.8C1912.8 500.8 1912.8 496.8 1912.9 492.9C1913.0 488.9 1913.0 485.0 1913.1 481.0C1913.2 477.0 1913.3 473.1 1913.3 469.1C1913.4 465.2 1913.5 461.2 1913.6 457.3C1913.7 453.3 1913.7 449.3 1913.8 445.4C1913.9 441.4 1914.0 437.5 1914.1 433.5C1914.2 429.5 1914.3 425.6 1914.3 421.6C1914.4 417.7 1914.5 413.7 1914.6 409.7C1914.7 405.8 1914.8 401.8 1914.9 397.9C1915.0 393.9 1915.1 390.0 1915.2 386.0C1915.3 382.0 1915.4 378.1 1915.5 374.1C1915.6 370.2 1915.7 366.2 1915.8 362.2C1915.9 358.3 1916.0 354.3 1916.2 350.4C1916.3 346.4 1916.4 342.5 1916.5 338.5C1916.6 342.4 1916.7 346.3 1916.7 350.3C1916.8 354.2 1916.9 358.1 1917.0 362.0C1917.0 366.0 1917.1 369.9 1917.2 373.8C1917.3 377.7 1917.4 381.7 1917.4 385.6C1917.5 389.5 1917.6 393.4 1917.7 397.4C1917.7 401.3 1917.8 405.2 1917.9 409.1C1917.9 413.1 1918.0 417.0 1918.1 420.9C1918.2 424.8 1918.2 428.8 1918.3 432.7C1918.4 436.6 1918.5 440.5 1918.5 444.5C1918.6 448.4 1918.7 452.3 1918.7 456.2C1918.8 460.2 1918.9 464.1 1919.0 468.0C1919.0 471.9 1919.1 475.9 1919.2 479.8C1919.2 483.7 1919.3 487.6 1919.4 491.6C1919.5 495.5 1919.5 499.4 1919.6 503.3C1919.7 507.3 1919.7 511.2 1919.8 515.1C1919.9 519.0 1919.9 523.0 1920.0 526.9C1920.1 530.8 1920.1 534.7 1920.2 538.7C1920.3 542.6 1920.3 546.5 1920.4 550.4C1920.5 554.4 1920.5 558.3 1920.6 562.2C1920.7 566.1 1920.7 570.1 1920.8 574.0C1920.9 577.9 1920.9 581.8 1921.0 585.8C1921.1 589.7 1921.1 593.6 1921.2 597.5C1921.3 601.5 1921.3 605.4 1921.4 609.3C1921.4 613.3 1921.5 617.2 1921.6 621.1C1921.6 625.0 1921.7 629.0 1921.8 632.9C1921.8 636.8 1921.9 640.7 1922.0 644.7C1922.0 648.6 1922.1 652.5 1922.1 656.4C1922.2 660.4 1922.3 664.3 1922.3 668.2C1922.4 672.1 1922.4 676.1 1922.5 680.0C1922.6 683.9 1922.6 687.8 1922.7 691.8C1922.8 695.7 1922.8 699.6 1922.9 703.5C1922.9 707.5 1923.0 711.4 1923.1 715.3C1923.1 719.2 1923.2 723.2 1923.2 727.1C1923.3 731.0 1923.4 734.9 1923.4 738.9C1923.5 742.8 1923.5 746.7 1923.6 750.6C1923.6 754.6 1923.7 758.5 1923.8 762.4C1923.8 766.3 1923.9 770.3 1923.9 774.2C1924.0 778.1 1924.1 782.0 1924.1 786.0C1924.2 789.9 1924.2 793.8 1924.3 797.8C1924.3 801.7 1924.4 805.6 1924.5 809.5C1924.5 813.5 1924.6 817.4 1924.6 821.3C1924.7 825.2 1924.8 829.2 1924.8 833.1C1924.9 837.0 1924.9 840.9 1925.0 844.9C1925.0 848.8 1925.1 852.7 1925.1 856.6C1925.2 860.6 1925.3 864.5 1925.3 868.4C1925.4 872.3 1925.4 876.3 1925.5 880.2C1925.5 884.1 1925.6 888.0 1925.7 892.0C1925.7 895.9 1925.8 899.8 1925.8 903.7C1925.9 907.7 1925.9 911.6 1926.0 915.5C1926.0 919.4 1926.1 923.4 1926.2 927.3C1926.2 931.2 1926.3 935.1 1926.3 939.1C1926.4 943.0 1926.4 946.9 1926.5 950.8C1926.5 954.8 1926.6 958.7 1926.7 962.6C1926.7 966.5 1926.8 970.5 1926.8 974.4C1926.9 978.3 1926.9 982.2 1927.0 986.2C1927.0 990.1 1927.1 994.0 1927.1 997.9C1927.2 1001.9 1927.3 1005.8 1927.3 1009.7C1927.4 1013.6 1927.4 1017.6 1927.5 1021.5C1927.5 1025.4 1927.6 1029.3 1927.7 1033.3C1927.7 1037.2 1927.8 1041.1 1927.9 1045.0C1927.9 1049.0 1928.0 1052.9 1928.1 1056.8C1928.1 1060.7 1928.2 1064.7 1928.3 1068.6C1928.3 1072.5 1928.4 1076.4 1928.5 1080.4C1928.6 1084.3 1928.6 1088.2 1928.7 1092.1C1928.8 1096.1 1928.9 1100.0 1929.0 1103.9C1929.1 1107.8 1929.2 1111.7 1929.2 1115.7C1929.3 1119.6 1929.4 1123.5 1929.5 1127.4C1929.6 1131.4 1929.7 1135.3 1929.9 1139.2C1930.0 1143.1 1930.1 1147.1 1930.2 1151.0C1930.3 1154.9 1930.4 1158.8 1930.6 1162.7C1930.7 1166.7 1930.8 1170.6 1931.0 1174.5C1931.1 1178.4 1931.2 1182.4 1931.4 1186.3C1931.5 1190.2 1931.7 1194.1 1931.8 1198.0C1932.0 1202.0 1932.2 1205.9 1932.3 1209.8C1932.5 1213.7 1932.7 1217.7 1932.9 1221.6C1933.0 1225.5 1933.2 1229.4 1933.4 1233.3C1933.6 1237.3 1933.8 1241.2 1934.0 1245.1C1934.2 1249.0 1934.4 1252.9 1934.7 1256.9C1934.9 1260.8 1935.1 1264.7 1935.4 1268.6C1935.6 1272.5 1935.8 1276.5 1936.1 1280.4C1936.3 1284.3 1936.6 1288.2 1936.9 1292.1C1937.1 1296.1 1937.4 1300.0 1937.7 1303.9C1938.0 1307.8 1938.3 1311.7 1938.6 1315.7C1938.9 1319.6 1939.2 1323.5 1939.5 1327.4C1939.8 1331.3 1940.1 1335.2 1940.5 1339.2C1940.8 1343.1 1941.1 1347.0 1941.5 1350.9C1941.9 1354.8 1942.2 1358.7 1942.6 1362.7C1943.0 1366.6 1943.4 1370.5 1943.8 1374.4C1944.2 1378.3 1944.6 1382.2 1945.1 1386.1C1945.5 1390.0 1946.0 1393.9 1946.5 1397.8C1947.0 1401.7 1947.5 1405.6 1948.0 1409.5C1948.5 1413.4 1949.1 1417.2 1949.7 1421.1C1950.3 1425.0 1950.9 1428.9 1951.5 1432.7C1952.1 1436.6 1952.8 1440.4 1953.5 1444.3C1954.2 1448.1 1954.9 1452.0 1955.7 1455.8C1956.4 1459.6 1957.2 1463.5 1958.1 1467.3C1958.9 1471.1 1959.8 1474.9 1960.7 1478.7C1961.6 1482.5 1962.6 1486.3 1963.7 1490.0C1964.8 1493.8 1965.9 1497.5 1967.2 1501.3C1968.5 1505.0 1969.9 1508.7 1971.4 1512.4C1972.9 1516.0 1974.5 1519.7 1976.3 1523.3C1978.1 1526.9 1980.0 1530.6 1982.1 1534.1C1984.3 1537.5 1986.5 1541.0 1989.2 1543.8C1991.9 1546.5 1994.9 1549.1 1998.3 1550.6C2001.5 1552.0 2005.4 1552.8 2009.0 1552.6C2012.6 1552.4 2016.5 1551.0 2019.9 1549.4C2023.5 1547.8 2026.9 1545.3 2030.0 1542.9C2033.1 1540.4 2036.0 1537.6 2038.6 1534.7C2041.3 1531.8 2043.6 1528.7 2045.8 1525.4C2048.0 1522.2 2050.0 1518.8 2051.9 1515.3C2053.8 1511.8 2055.5 1508.2 2057.2 1504.6C2058.8 1501.0 2060.3 1497.3 2061.8 1493.6C2063.3 1490.0 2064.8 1486.3 2066.2 1482.6C2067.7 1479.0 2069.1 1475.3 2070.5 1471.7C2071.9 1468.1 2073.3 1464.5 2074.8 1460.8C2076.2 1457.2 2077.6 1453.6 2079.0 1450.0C2080.4 1446.4 2081.9 1442.8 2083.3 1439.2C2084.7 1435.5 2086.2 1431.9 2087.7 1428.3C2089.2 1424.6 2090.7 1420.9 2092.2 1417.2L2097.0 1416.9"/></defs>
<use href="#cb" stroke="#0072bd" stroke-width="12.6" shape-rendering="auto"/><use href="#cb" stroke="#0072bd"/>
<use href="#co" stroke="#d95319" stroke-width="12.6" shape-rendering="auto"/><use href="#co" stroke="#d95319"/>
</g>
<text transform="translate(197.8 1788.5) scale(1 1.0200)" font-size="62.3px" fill="#262626" text-anchor="end" stroke="#262626" stroke-width="0.45" stroke-linejoin="round">0</text>
<text transform="translate(200.7 1625.4) scale(1 1.0200)" font-size="62.3px" fill="#262626" text-anchor="end" stroke="#262626" stroke-width="0.45" stroke-linejoin="round">0.<tspan dx="2.93">1</tspan></text>
<text transform="translate(197.8 1462.3) scale(1 1.0200)" font-size="62.3px" fill="#262626" text-anchor="end" stroke="#262626" stroke-width="0.45" stroke-linejoin="round">0.2</text>
<text transform="translate(197.8 1299.2) scale(1 1.0200)" font-size="62.3px" fill="#262626" text-anchor="end" stroke="#262626" stroke-width="0.45" stroke-linejoin="round">0.3</text>
<text transform="translate(197.8 1136.1) scale(1 1.0200)" font-size="62.3px" fill="#262626" text-anchor="end" stroke="#262626" stroke-width="0.45" stroke-linejoin="round">0.4</text>
<text transform="translate(197.8 973.0) scale(1 1.0200)" font-size="62.3px" fill="#262626" text-anchor="end" stroke="#262626" stroke-width="0.45" stroke-linejoin="round">0.5</text>
<text transform="translate(197.8 809.9) scale(1 1.0200)" font-size="62.3px" fill="#262626" text-anchor="end" stroke="#262626" stroke-width="0.45" stroke-linejoin="round">0.6</text>
<text transform="translate(197.8 646.8) scale(1 1.0200)" font-size="62.3px" fill="#262626" text-anchor="end" stroke="#262626" stroke-width="0.45" stroke-linejoin="round">0.7</text>
<text transform="translate(197.8 483.7) scale(1 1.0200)" font-size="62.3px" fill="#262626" text-anchor="end" stroke="#262626" stroke-width="0.45" stroke-linejoin="round">0.8</text>
<text transform="translate(197.8 320.6) scale(1 1.0200)" font-size="62.3px" fill="#262626" text-anchor="end" stroke="#262626" stroke-width="0.45" stroke-linejoin="round">0.9</text>
<text transform="translate(200.7 157.5) scale(1 1.0200)" font-size="62.3px" fill="#262626" text-anchor="end" stroke="#262626" stroke-width="0.45" stroke-linejoin="round">1</text>
<text transform="translate(165.3 1873.0) scale(1 1.0200)" font-size="62.3px" fill="#262626" text-anchor="start" stroke="#262626" stroke-width="0.45" stroke-linejoin="round"><tspan dx="1.93">1</tspan><tspan dx="-1.93">0</tspan><tspan font-size="54.0px" dx="1.80" dy="-27.5">-2</tspan></text>
<text transform="translate(581.1 1873.0) scale(1 1.0200)" font-size="62.3px" fill="#262626" text-anchor="start" stroke="#262626" stroke-width="0.45" stroke-linejoin="round"><tspan dx="1.93">1</tspan><tspan dx="-1.93">0</tspan><tspan font-size="54.0px" dx="1.60" dy="-27.5">-</tspan><tspan font-size="54.0px" dx="1.67">1</tspan></text>
<text transform="translate(1007.5 1873.0) scale(1 1.0200)" font-size="62.3px" fill="#262626" text-anchor="start" stroke="#262626" stroke-width="0.45" stroke-linejoin="round"><tspan dx="1.93">1</tspan><tspan dx="-1.93">0</tspan><tspan font-size="54.0px" dx="3.00" dy="-27.5">0</tspan></text>
<text transform="translate(1419.5 1873.0) scale(1 1.0200)" font-size="62.3px" fill="#262626" text-anchor="start" stroke="#262626" stroke-width="0.45" stroke-linejoin="round"><tspan dx="1.93">1</tspan><tspan dx="-1.93">0</tspan><tspan font-size="54.0px" dx="3.77" dy="-27.5">1</tspan></text>
<text transform="translate(1835.4 1873.0) scale(1 1.0200)" font-size="62.3px" fill="#262626" text-anchor="start" stroke="#262626" stroke-width="0.45" stroke-linejoin="round"><tspan dx="1.93">1</tspan><tspan dx="-1.93">0</tspan><tspan font-size="54.0px" dx="1.40" dy="-27.5">2</tspan></text>
<text transform="translate(2251.9 1873.0) scale(1 1.0200)" font-size="62.3px" fill="#262626" text-anchor="start" stroke="#262626" stroke-width="0.45" stroke-linejoin="round"><tspan dx="1.93">1</tspan><tspan dx="-1.93">0</tspan><tspan font-size="54.0px" dx="1.80" dy="-27.5">3</tspan></text>
<path d="M169.63 1619.53h11.85v7.07h-11.85zM187.53 1619.53h11.36v7.07h-11.36zM169.63 151.63h11.85v7.07h-11.85zM187.53 151.63h11.36v7.07h-11.36zM170.78 1867.13h11.85v7.07h-11.85zM188.68 1867.13h11.36v7.07h-11.36zM586.56 1867.13h11.85v7.07h-11.85zM604.46 1867.13h11.36v7.07h-11.36zM674.55 1839.76h10.39v6.44h-10.39zM690.26 1839.76h9.97v6.44h-9.97zM1012.94 1867.13h11.85v7.07h-11.85zM1030.84 1867.13h11.36v7.07h-11.36zM1425.02 1867.13h11.85v7.07h-11.85zM1442.92 1867.13h11.36v7.07h-11.36zM1495.52 1839.76h10.39v6.44h-10.39zM1511.24 1839.76h9.97v6.44h-9.97zM1840.90 1867.13h11.85v7.07h-11.85zM1858.80 1867.13h11.36v7.07h-11.36zM2257.38 1867.13h11.85v7.07h-11.85zM2275.28 1867.13h11.36v7.07h-11.36z" fill="#fff"/>
<text transform="translate(981.7 1972.0) scale(1 1.0000)" font-size="71.8px" fill="#262626" text-anchor="start" letter-spacing="0.12" stroke="#262626" stroke-width="1.00" stroke-linejoin="round">Frequency (rad/s)</text>
<text transform="translate(71.9 1119.9) rotate(-90) scale(1 1.0000)" font-size="71.8px" fill="#262626" text-anchor="start" stroke="#262626" stroke-width="1.00" stroke-linejoin="round">Magnitude</text>
<text transform="translate(712.0 69.0) scale(1 1.0000)" font-size="71.7px" fill="#000" text-anchor="start" font-weight="bold" stroke="#000" stroke-width="0.90" stroke-linejoin="round">Uncertainty approximation in G<tspan x="1071.6" y="33.8" font-size="53.2px">P</tspan></text>
<g shape-rendering="crispEdges">
<rect x="288" y="193" width="1273" height="181" fill="#fff"/>
<path d="M288 195H1561M288 372H1561M1559 193V374" stroke="#262626" stroke-width="4" fill="none"/>
<path d="M290.5 193V374" stroke="#262626" stroke-width="5" fill="none"/>
<path d="M309 243H454" stroke="#0072bd" stroke-width="14" fill="none"/>
<path d="M309 323H454" stroke="#d95319" stroke-width="14" fill="none"/>
</g>
<g fill="#000" font-size="57.4px">
<text transform="translate(467.0 266.0) scale(1 1.0000)" font-size="57.4px" fill="#000" text-anchor="start" stroke="#000" stroke-width="0.90" stroke-linejoin="round">Exact maximum perurbation</text>
<text transform="translate(467.0 345.9) scale(1 1.0000)" font-size="57.4px" fill="#000" text-anchor="start" stroke="#000" stroke-width="0.90" stroke-linejoin="round">Approximate maximum perturbation, n = 5</text>
</g>
</svg></body></html>
